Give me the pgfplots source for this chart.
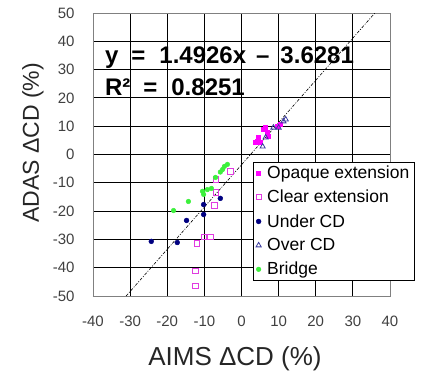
\documentclass[border=0pt]{standalone}
\usepackage{fontspec}
\setmainfont{Liberation Sans}
\usepackage{pgfplots}
\pgfplotsset{compat=1.18}
\definecolor{opq}{RGB}{255,0,255}
\definecolor{clr}{RGB}{225,60,225}
\definecolor{und}{RGB}{0,0,128}
\definecolor{ovr}{RGB}{60,60,160}
\definecolor{brg}{RGB}{60,240,60}
\begin{document}
\begin{tikzpicture}[x=1pt,y=1pt]
\useasboundingbox (-93,-79) rectangle (330,296);
\begin{axis}[at={(0,0)}, anchor=south west, scale only axis,
 width=297pt, height=283pt,
 xmin=-40, xmax=40, ymin=-50, ymax=50,
 xtick={-40,-30,...,40}, ytick={-50,-40,...,50},
 grid=major, major grid style={black, line width=0.9pt},
 axis line style={gray, line width=0.9pt},
 major tick length=0pt,
 tick label style={font=\fontsize{15}{18}\selectfont, text=black!75},
 /pgf/number format/assume math mode=true,
 xticklabel style={yshift=-16pt},
 yticklabel style={xshift=-15pt},
 xlabel={AIMS ΔCD (\%)}, ylabel={ADAS ΔCD (\%)},
 label style={text=black!85},
 xlabel style={font=\fontsize{26}{30}\selectfont, at={(axis description cs:0.478,-0.223)}, anchor=center},
 ylabel style={font=\fontsize{23}{28}\selectfont, at={(axis description cs:-0.202,0.541)}, anchor=center},
 legend style={at={(0.5375,0.475)}, anchor=north west, draw=black, line width=0.8pt,
   font=\fontsize{17.5}{21}\selectfont, row sep=6pt, column sep=4pt, fill=white},
 legend cell align=left,
 clip=true]
\addplot[only marks, mark=square*, mark size=2pt, color=opq, mark options={line width=0.5pt}] coordinates {
(4.3,4.6) (5.1,4.2) (4.6,6.0) (3.8,4.2) (5.9,8.8) (6.5,9.5) (7.0,7.8) (7.3,6.4) (9.7,9.9) (10.5,10.6)};
\addlegendentry{Opaque extension}
\addplot[only marks, mark=square, mark size=2.6pt, color=clr, mark options={line width=0.8pt}] coordinates {
(-3.0,-6.0) (-7.0,-8.8) (-7.0,-13.4) (-7.3,-18.0) (-10.2,-29.0) (-8.4,-29.0) (-12.1,-31.4) (-12.4,-41.0) (-12.4,-46.3)};
\addlegendentry{Clear extension}
\addplot[only marks, mark=*, mark size=2.4pt, color=und, mark options={line width=0.5pt}] coordinates {
(-10.2,-17.7) (-5.7,-15.5) (-10.2,-21.2) (-14.8,-23.3) (-24.3,-30.7) (-17.3,-31.1)};
\addlegendentry{Under CD}
\addplot[only marks, mark=triangle, mark size=3pt, color=ovr, mark options={line width=0.8pt}] coordinates {
(5.7,2.8) (6.5,6.0) (8.6,9.5) (10.0,9.5) (11.3,11.7) (11.9,12.4)};
\addlegendentry{Over CD}
\addplot[only marks, mark=*, mark size=2.3pt, color=brg, mark options={line width=0.5pt}] coordinates {
(-3.8,-3.5) (-4.6,-4.2) (-5.1,-5.3) (-5.7,-6.2) (-7.0,-8.1) (-8.1,-12.0) (-9.2,-12.4) (-10.2,-14.1) (-10.5,-13.0) (-14.3,-16.6) (-18.3,-19.8)};
\addlegendentry{Bridge}
\addplot[black, line width=0.6pt, dash pattern=on 3pt off 1.5pt on 1pt off 1.5pt, forget plot] coordinates {(-31.07,-50) (35.93,50)};
\node[anchor=base west, font=\bfseries\fontsize{24}{28}\selectfont, inner sep=0pt] at (axis cs:-36.8,32.0) {y\hspace{13pt}=\hspace{14pt}1.4926x\hspace{10pt}–\hspace{11pt}3.6281};
\node[anchor=base west, font=\bfseries\fontsize{24}{28}\selectfont, inner sep=0pt] at (axis cs:-36.8,21.0) {R²\hspace{13pt}=\hspace{14pt}0.8251};
\end{axis}
\end{tikzpicture}
\end{document}
